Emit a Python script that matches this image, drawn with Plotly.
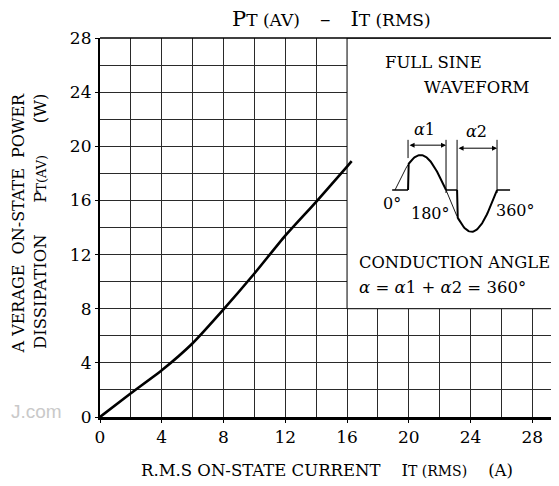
import numpy as np
import plotly.graph_objects as go

# ---- data ----
current = [0, 2, 4, 6, 8, 10, 12, 14, 16, 16.3]          # IT(RMS) (A)
power = [0, 1.75, 3.45, 5.45, 7.95, 10.6, 13.4, 15.9, 18.5, 18.9]  # PT(AV) (W)
x_ticks = [0, 4, 8, 12, 16, 20, 24, 28]
y_ticks = [0, 4, 8, 12, 16, 20, 24, 28]
fire1, fire2 = 46, 219   # firing angles of the waveform sketch (deg)

FONT = "DejaVu Serif"
OFF = 8                      # browser body margin
W, H = 559 - OFF, 486 - OFF
L, R, T, B = 100, 559, 38, 417   # plot area in reference pixels
XMAX = (R - L) / 15.44


def px(xp):
    return (xp - L) / (R - L)


def py(yp):
    return (B - yp) / (B - T)


fig = go.Figure()

fig.add_trace(go.Scatter(x=current, y=power, mode="lines",
                         line=dict(color="black", width=2.6, shape="spline", smoothing=0.6),
                         hoverinfo="skip", showlegend=False))

# ---- waveform sketch on its own small axes (degrees) ----
pos_amp, neg_amp = 0.92, 1.1
d = np.linspace(0, fire1, 20)
thin1_x = list(d); thin1_y = list(pos_amp * np.sin(np.radians(d)))
d = np.linspace(180, fire2, 20)
thin2_x = list(d); thin2_y = list(neg_amp * np.sin(np.radians(d)))
d = np.linspace(fire1, 180, 60)
bold1_x = [fire1] + list(d); bold1_y = [0] + list(pos_amp * np.sin(np.radians(d)))
d = np.linspace(fire2, 360, 60)
bold2_x = [fire2] + list(d); bold2_y = [0] + list(neg_amp * np.sin(np.radians(d)))

common = dict(xaxis="x2", yaxis="y2", mode="lines", hoverinfo="skip", showlegend=False)
fig.add_trace(go.Scatter(x=[-10, fire1, None, 180, fire2, None, 360, 406],
                         y=[0, 0, None, 0, 0, None, 0, 0],
                         line=dict(color="black", width=1.6), **common))
fig.add_trace(go.Scatter(x=thin1_x + [None] + thin2_x, y=thin1_y + [None] + thin2_y,
                         line=dict(color="black", width=0.9), **common))
fig.add_trace(go.Scatter(x=bold1_x + [None] + bold2_x, y=bold1_y + [None] + bold2_y,
                         line=dict(color="black", width=2), **common))
fig.add_trace(go.Scatter(x=[fire1, fire1, None, 180, 180, None, fire2, fire2, None, 360, 360],
                         y=[0.84, 1.32, None, -0.08, 1.32, None, 0, 1.32, None, -0.08, 1.32],
                         line=dict(color="black", width=1), **common))

shapes = [dict(type="rect", xref="x", yref="y", x0=16, x1=XMAX, y0=8, y1=28,
               fillcolor="white", line=dict(color="black", width=1), layer="between")]

annotations = []


def txt(text, x, y, size=15, xanchor="center", yanchor="middle", **kw):
    annotations.append(dict(text=text, x=x, y=y, xref="paper", yref="paper",
                            showarrow=False, xanchor=xanchor, yanchor=yanchor,
                            font=dict(family=FONT, size=size, color="black"), **kw))


sm = "<span style='font-size:17px'>"
txt(f"P{sm}T (AV)</span>   –   I{sm}T (RMS)</span>", px(331), py(19), size=21)
txt("A VERAGE  ON-STATE  POWER", px(18), py(91), size=16, yanchor="top", textangle=-90)
txt("DISSIPATION      P<span style='font-size:13px'>T(AV)</span>      (W)", px(40), py(91),
    size=16.5, yanchor="top", textangle=-90)
txt("R.M.S ON-STATE CURRENT    I<span style='font-size:14px'>T (RMS)</span>    (A)",
    px(327), py(470), size=16.5)
txt("FULL SINE", px(383), py(62), size=16.5, xanchor="left")
txt("WAVEFORM", px(422), py(87), size=16.5, xanchor="left")
txt("CONDUCTION ANGLE", px(357), py(262), size=16.3, xanchor="left")
txt("<i>α</i> = <i>α</i>1 + <i>α</i>2 = 360°", px(357), py(287), size=16.5, xanchor="left")
annotations.append(dict(text="J.com", x=px(36), y=py(411), xref="paper", yref="paper",
                        xanchor="center", yanchor="middle", showarrow=False,
                        font=dict(family="Liberation Sans", size=19, color="#c9c9c9")))

# labels and arrows of the sketch
for t, xx, yy in [("<i>α</i>1", 105, 1.6), ("<i>α</i>2", 289, 1.55),
                  ("0°", -9, -0.36), ("180°", 124, -0.62), ("360°", 424, -0.55)]:
    annotations.append(dict(text=t, x=xx, y=yy, xref="x2", yref="y2", showarrow=False,
                            xanchor="center", yanchor="middle",
                            font=dict(family=FONT, size=16, color="black")))
for a0, a1, yy in [(fire1, 180, 1.18), (fire2, 360, 1.1)]:
    annotations.append(dict(text="", x=a1, y=yy, ax=a0, ay=yy, xref="x2", yref="y2",
                            axref="x2", ayref="y2", showarrow=True, arrowhead=2,
                            arrowside="end+start", arrowsize=1, arrowwidth=1, arrowcolor="black"))

axis_font = dict(family=FONT, size=17, color="black")
fig.update_layout(
    width=W, height=H, margin=dict(l=L - OFF, r=W - (R - OFF), t=T - OFF, b=H - (B - OFF)),
    paper_bgcolor="white", plot_bgcolor="white",
    shapes=shapes, annotations=annotations,
    xaxis=dict(range=[0, XMAX], tickvals=x_ticks, ticktext=[str(v) for v in x_ticks],
               showgrid=True, gridcolor="#2a2a2a", gridwidth=1,
               minor=dict(dtick=2, tick0=0, showgrid=True, gridcolor="#2a2a2a", gridwidth=1),
               showline=True, linecolor="black", linewidth=2.5, mirror=False,
               ticks="outside", ticklen=3, tickcolor="black", tickfont=axis_font,
               zeroline=False, fixedrange=True),
    yaxis=dict(range=[0, 28], tickvals=y_ticks, ticktext=[str(v) for v in y_ticks],
               showgrid=True, gridcolor="#2a2a2a", gridwidth=1,
               minor=dict(dtick=2, tick0=0, showgrid=True, gridcolor="#2a2a2a", gridwidth=1),
               showline=True, linecolor="black", linewidth=2.2,
               ticks="outside", ticklen=3, tickcolor="black", tickfont=axis_font,
               zeroline=False, fixedrange=True),
    xaxis2=dict(domain=[px(378), px(519.7)], range=[-60, 440], anchor="y2", visible=False,
                fixedrange=True),
    yaxis2=dict(domain=[py(250), py(120)], range=[-1.579, 1.842], anchor="x2", visible=False,
                fixedrange=True),
)
# top frame line
fig.add_shape(type="line", xref="paper", yref="paper", x0=0, x1=1, y0=1, y1=1,
              line=dict(color="black", width=1.6))

fig.write_html("out.html")
